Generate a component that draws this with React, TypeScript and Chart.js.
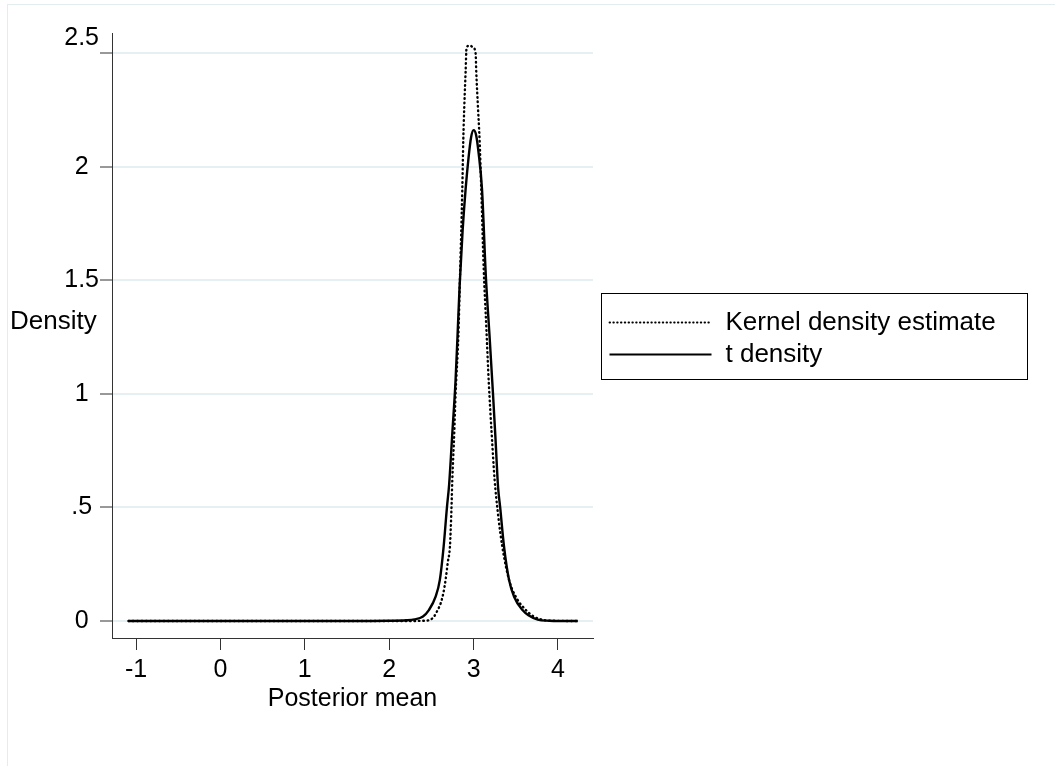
import { useEffect, useRef } from "react";
import { Chart, registerables } from "chart.js";

Chart.register(...registerables);

// t density (solid)
const tX = [-1.09, -0.5, 0, 0.5, 1, 1.5, 2, 2.2, 2.3, 2.4, 2.47, 2.55, 2.6, 2.645, 2.685, 2.71, 2.75, 2.785, 2.81, 2.835, 2.87, 2.905, 2.94, 2.97, 3.0, 3.03, 3.06, 3.1, 3.145, 3.19, 3.23, 3.26, 3.29, 3.315, 3.36, 3.42, 3.48, 3.58, 3.65, 3.76, 3.9, 4.0, 4.235];
const tY = [0, 0, 0, 0, 0, 0, 0.001, 0.003, 0.007, 0.02, 0.048, 0.107, 0.181, 0.328, 0.504, 0.6, 0.84, 1.05, 1.26, 1.48, 1.72, 1.9, 2.04, 2.13, 2.162, 2.14, 2.06, 1.9, 1.52, 1.25, 1.0, 0.8, 0.59, 0.5, 0.33, 0.181, 0.107, 0.048, 0.025, 0.006, 0.001, 0, 0];

// Kernel density estimate (dotted)
const kX = [-1.09, -0.5, 0, 0.5, 1, 1.5, 2, 2.3, 2.4, 2.47, 2.53, 2.57, 2.61, 2.64, 2.668, 2.695, 2.72, 2.736, 2.748, 2.77, 2.787, 2.819, 2.838, 2.866, 2.878, 2.89, 2.905, 2.917, 2.955, 2.992, 3.024, 3.032, 3.051, 3.071, 3.091, 3.12, 3.15, 3.18, 3.215, 3.249, 3.288, 3.34, 3.42, 3.5, 3.62, 3.715, 3.834, 3.95, 4.235];
const kY = [0, 0, 0, 0, 0, 0, 0, 0, 0.001, 0.003, 0.019, 0.045, 0.078, 0.12, 0.181, 0.26, 0.33, 0.475, 0.622, 0.82, 1.004, 1.25, 1.504, 1.9, 2.12, 2.268, 2.415, 2.527, 2.535, 2.527, 2.5, 2.415, 2.268, 2.12, 1.9, 1.55, 1.3, 1.05, 0.82, 0.622, 0.475, 0.328, 0.181, 0.107, 0.048, 0.019, 0.004, 0.001, 0];

const seriesNames = ["Kernel density estimate", "t density"];
const xTicks = [-1, 0, 1, 2, 3, 4];
const xTickLabels = ["-1", "0", "1", "2", "3", "4"];
const yTicks = [0, 0.5, 1, 1.5, 2, 2.5];
const yTickLabels = ["0", ".5", "1", "1.5", "2", "2.5"];
const xTitle = "Posterior mean";
const yTitle = "Density";

const FAMILY = "'Liberation Sans', Arial, sans-serif";
const FSIZE = 25;
const LSIZE = 26;

const decor = {
  id: "decor",
  beforeDraw(chart: any) {
    const ctx = chart.ctx;
    ctx.save();
    ctx.fillStyle = "#ffffff";
    ctx.fillRect(0, 0, chart.width, chart.height);
    ctx.strokeStyle = "#e3ecef";
    ctx.lineWidth = 1;
    ctx.strokeRect(7.5, 4.5, chart.width + 100, chart.height + 100);
    ctx.restore();
  },
  afterDraw(chart: any) {
    const { ctx, chartArea } = chart;
    ctx.save();
    ctx.font = `${LSIZE}px ${FAMILY}`;
    ctx.fillStyle = "#000";
    ctx.textAlign = "left";
    ctx.textBaseline = "middle";
    const midY = (chartArea.top + chartArea.bottom) / 2;
    ctx.fillText(yTitle, 10, midY - 14);

    // legend box
    const bw = 426;
    const bh = 86;
    const bx = Math.round(chartArea.right + 8) + 0.5;
    const by = Math.round(midY - bh / 2) + 0.5;
    ctx.strokeStyle = "#000";
    ctx.lineWidth = 1;
    ctx.strokeRect(bx, by, bw, bh);
    chart.data.datasets.forEach((ds: any, i: number) => {
      const y = by + 29 + i * 32;
      ctx.beginPath();
      if (ds.borderDash && ds.borderDash.length) {
        ctx.setLineDash([0.6, 3.2]);
        ctx.lineCap = "round";
        ctx.lineWidth = 1.8;
      } else {
        ctx.setLineDash([]);
        ctx.lineCap = "butt";
        ctx.lineWidth = 2;
      }
      ctx.strokeStyle = "#000";
      ctx.moveTo(bx + 8, y);
      ctx.lineTo(bx + 110, y);
      ctx.stroke();
      ctx.setLineDash([]);
      ctx.fillText(ds.label, bx + 124, y);
    });
    ctx.restore();
  },
};

export default function App() {
  const ref = useRef<HTMLCanvasElement | null>(null);

  useEffect(() => {
    if (!ref.current) return;
    const font = { family: FAMILY, size: FSIZE };
    const topY = yTicks[yTicks.length - 1];
    const chart = new Chart(ref.current, {
      type: "line",
      data: {
        datasets: [
          {
            label: seriesNames[0],
            data: kX.map((x, i) => ({ x, y: kY[i] })),
            borderColor: "#000",
            borderWidth: 2.4,
            borderDash: [0.6, 3.8],
            borderCapStyle: "round",
            pointRadius: 0,
            cubicInterpolationMode: "monotone",
            fill: false,
          },
          {
            label: seriesNames[1],
            data: tX.map((x, i) => ({ x, y: tY[i] })),
            borderColor: "#000",
            borderWidth: 2.4,
            pointRadius: 0,
            cubicInterpolationMode: "monotone",
            fill: false,
          },
        ],
      },
      options: {
        animation: false,
        responsive: false,
        maintainAspectRatio: false,
        layout: { padding: { left: 0, right: 462, top: 33, bottom: 0 } },
        plugins: { legend: { display: false }, tooltip: { enabled: false } },
        scales: {
          x: {
            type: "linear",
            min: -1.285,
            max: 4.415,
            afterBuildTicks: (s: any) => {
              s.ticks = xTicks.map((v) => ({ value: v }));
            },
            afterFit: (s: any) => {
              s.height = 128;
            },
            ticks: {
              autoSkip: false,
              maxRotation: 0,
              padding: 5,
              color: "#000",
              font,
              callback: (v: any) => xTickLabels[xTicks.indexOf(Number(v))] ?? "",
            },
            grid: {
              drawOnChartArea: false,
              drawTicks: true,
              tickLength: 12,
              tickColor: "#333",
              tickWidth: 1,
            },
            border: { display: true, color: "#333", width: 1 },
            title: {
              display: true,
              text: xTitle,
              color: "#000",
              font,
              padding: { top: 0, bottom: 52 },
            },
          },
          y: {
            type: "linear",
            min: -0.075,
            max: 2.59,
            afterBuildTicks: (s: any) => {
              s.ticks = yTicks.map((v) => ({ value: v }));
            },
            afterFit: (s: any) => {
              s.width = 112;
            },
            ticks: {
              autoSkip: false,
              padding: 1,
              crossAlign: "center",
              color: "#000",
              font,
              callback: (v: any) => {
                const lbl = yTickLabels[yTicks.indexOf(Number(v))] ?? "";
                return Number(v) === topY ? [lbl, ""] : lbl;
              },
            },
            grid: {
              drawOnChartArea: true,
              color: "#e6eff1",
              lineWidth: 2,
              drawTicks: true,
              tickLength: 12,
              tickColor: "#333",
              tickWidth: 1,
            },
            border: { display: true, color: "#333", width: 1 },
          },
        },
      },
      plugins: [decor],
    } as any);
    return () => chart.destroy();
  }, []);

  return (
    <div style={{ position: "fixed", left: 0, top: 0, width: 1055, height: 766, background: "#fff" }}>
      <canvas ref={ref} width={1055} height={766} style={{ display: "block" }} />
    </div>
  );
}
